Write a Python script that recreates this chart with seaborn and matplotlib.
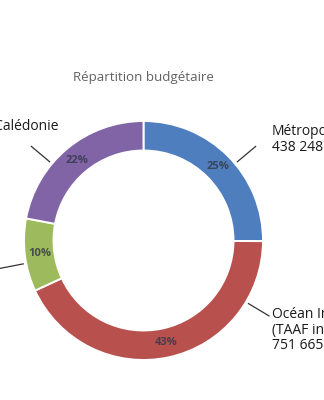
import numpy as np
import matplotlib
matplotlib.use("Agg")
import matplotlib.pyplot as plt
import seaborn as sns

sns.set_theme(style="white")
plt.rcParams["font.family"] = ["Open Sans", "DejaVu Sans"]

# Budget split by territory (euros)
regions = ["Métropole", "Océan Indien\n(TAAF inclus)", "Antilles-Guyane", "Nouvelle-Calédonie"]
amounts = [438248, 751665, 172000, 385000]
amount_labels = ["438 248 €", "751 665 €", "172 000 €", "385 000 €"]
colors = ["#4F7EBF", "#B8504E", "#9DBB5C", "#8064A6"]

title = "Répartition budgétaire"

fig = plt.figure(figsize=(3.24, 4.0), dpi=100)
ax = fig.add_axes([0, 0, 1, 1])

wedges, texts, autotexts = ax.pie(
    amounts,
    colors=colors,
    startangle=90,
    counterclock=False,
    radius=1.0,
    autopct="%.0f%%",
    pctdistance=0.875,
    wedgeprops=dict(width=0.247, edgecolor="white", linewidth=1.4),
    textprops=dict(fontsize=8, color="#363a4c", fontweight="bold"),
)
for t in autotexts:
    t.set_alpha(0.85)

# ring centre and radius in pixels, expressed in data units (radius = 1)
px = 119.5
cx, cy = 143.5, 240.5
ax.set_xlim(-cx / px, (324 - cx) / px)
ax.set_ylim(-(400 - cy) / px, cy / px)
ax.set_aspect("equal", adjustable="datalim")
ax.axis("off")

# leader lines and callout labels
leader_angles = [40, -31, 191, 140]
label_pos = [(1.075, 0.845), (1.075, -0.75), (-1.45, -0.35), (59 / px - cx / px, 0.887)]
label_ha = ["left", "left", "right", "right"]
for name, amt, ang, (lx, ly), ha in zip(regions, amount_labels, leader_angles, label_pos, label_ha):
    a = np.deg2rad(ang)
    r0, r1 = 1.02, 1.23
    ax.plot([r0 * np.cos(a), r1 * np.cos(a)], [r0 * np.sin(a), r1 * np.sin(a)],
            color="#333333", lw=0.9, solid_capstyle="butt")
    ax.text(lx, ly, f"{name}\n{amt}", ha=ha, va="center", multialignment="left",
            fontsize=10, color="#1a1a1a", linespacing=1.05)

ax.text(0, (cy - 78) / px, title, ha="center", va="center", fontsize=9.6, color="#626262")

fig.savefig("out.png", dpi=100, facecolor="white")
